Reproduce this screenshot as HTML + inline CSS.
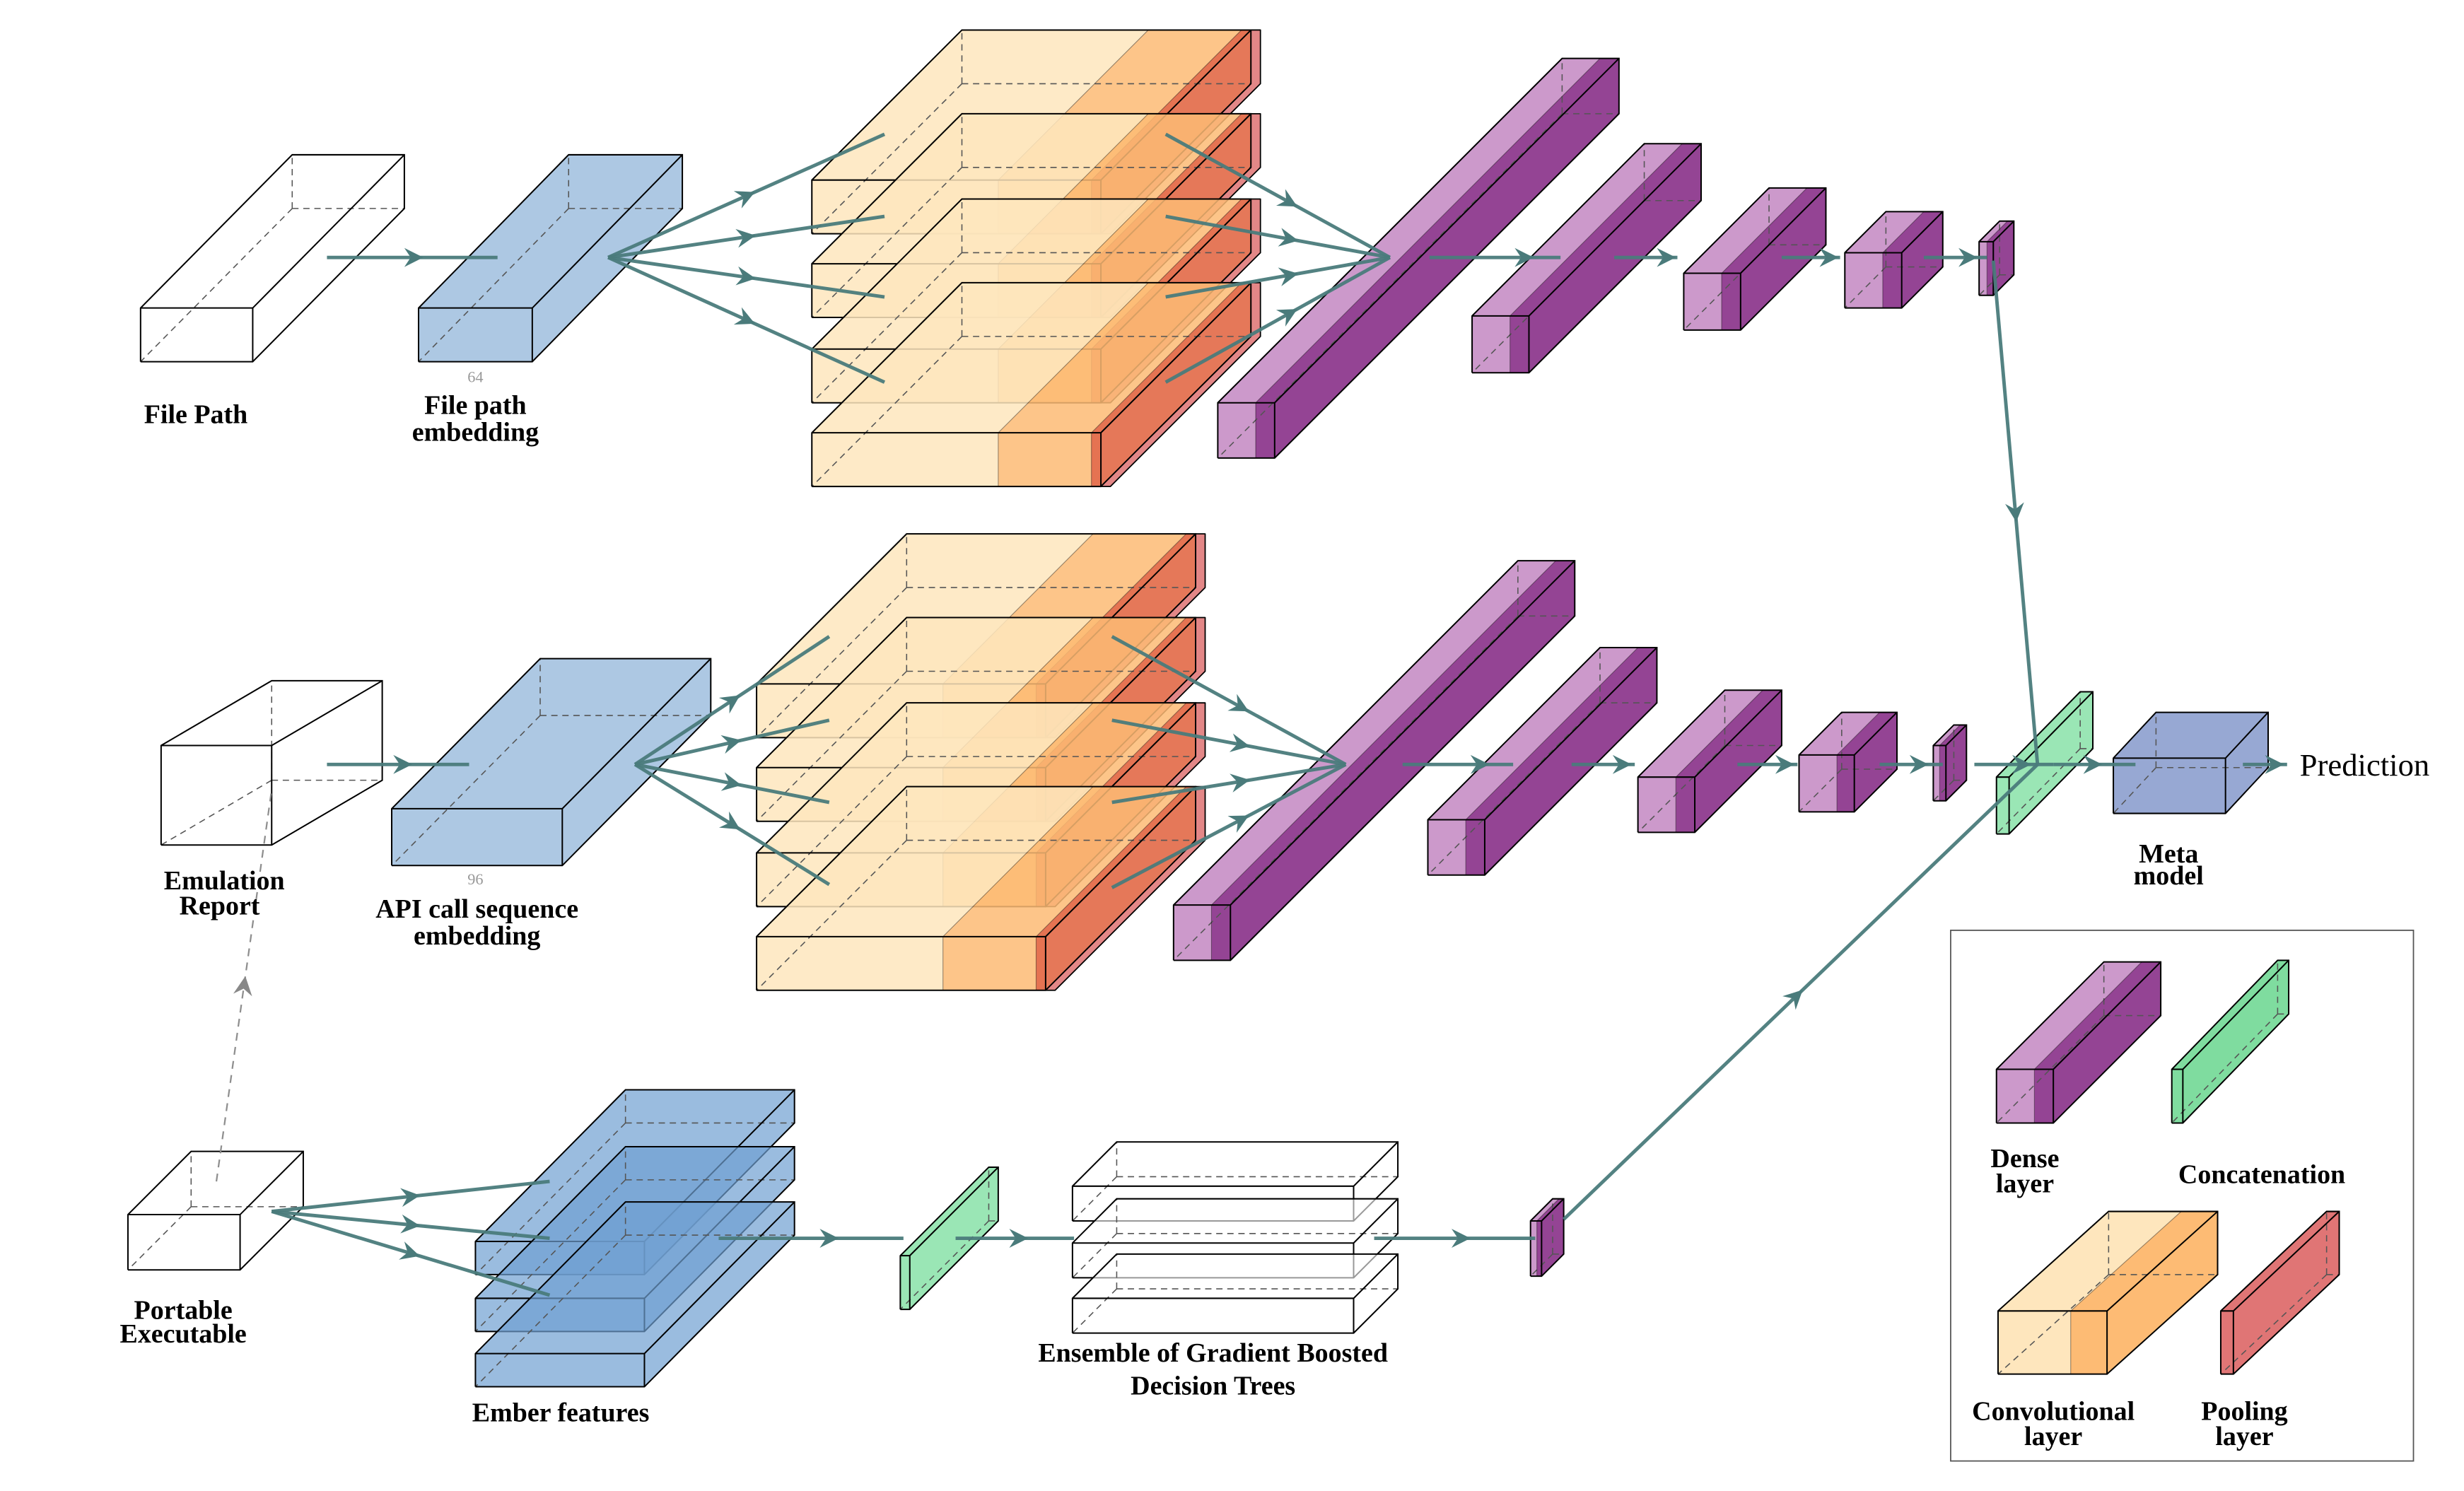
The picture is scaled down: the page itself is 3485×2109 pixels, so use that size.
<!DOCTYPE html>
<html><head><meta charset="utf-8">
<style>
html,body{margin:0;padding:0;background:#fff;}
svg{display:block;}
text{font-family:"Liberation Serif",serif;}
.lb{font-weight:bold;font-size:17px;text-anchor:middle;fill:#000;}
</style></head>
<body>
<svg id="s" width="3485" height="2109" viewBox="0 0 1560 944" preserveAspectRatio="none" xmlns="http://www.w3.org/2000/svg">
<rect x="0" y="0" width="1560" height="944" fill="#fff"/>
<g id="shapes"></g>
<g id="arrows"></g>
<g id="labels">
<text class="lb" x="124" y="268">File Path</text>
<text class="lb" x="301" y="262">File path</text>
<text class="lb" x="301" y="279">embedding</text>
<text x="301" y="242" font-size="10" fill="#999" text-anchor="middle">64</text>
<text class="lb" x="142" y="563">Emulation</text>
<text class="lb" x="139" y="579">Report</text>
<text class="lb" x="302" y="581">API call sequence</text>
<text class="lb" x="302" y="598">embedding</text>
<text x="301" y="560" font-size="10" fill="#999" text-anchor="middle">96</text>
<text class="lb" x="1373" y="546">Meta</text>
<text class="lb" x="1373" y="560">model</text>
<text x="1456" y="491" font-size="20" fill="#000">Prediction</text>
<text class="lb" x="116" y="835">Portable</text>
<text class="lb" x="116" y="850">Executable</text>
<text class="lb" x="355" y="900">Ember features</text>
<text class="lb" x="768" y="862">Ensemble of Gradient Boosted</text>
<text class="lb" x="768" y="883">Decision Trees</text>
<text class="lb" x="1282" y="739">Dense</text>
<text class="lb" x="1282" y="755">layer</text>
<text class="lb" x="1432" y="749">Concatenation</text>
<text class="lb" x="1300" y="899">Convolutional</text>
<text class="lb" x="1300" y="915">layer</text>
<text class="lb" x="1421" y="899">Pooling</text>
<text class="lb" x="1421" y="915">layer</text>
</g>
</svg>
<script>
var NS="http://www.w3.org/2000/svg";
var G=document.getElementById("shapes"), A=document.getElementById("arrows");
function el(p,tag,at){var e=document.createElementNS(NS,tag);for(var k in at)e.setAttribute(k,at[k]);p.appendChild(e);return e;}
function poly(pts,fill,op,stroke){return el(G,"polygon",{points:pts.map(function(p){return p[0]+","+p[1]}).join(" "),fill:fill,"fill-opacity":op,stroke:stroke||"#000","stroke-width":0.8,"stroke-linejoin":"round"});}
function dash(x1,y1,x2,y2){el(G,"line",{x1:x1,y1:y1,x2:x2,y2:y2,stroke:"#555","stroke-width":0.7,"stroke-dasharray":"4,3"});}
// segs: [[width, frontColor, topColor]], side color
function box(x,y,h,dx,dy,segs,side,op){
  op=(op===undefined)?0.85:op;
  var W=0;segs.forEach(function(s){W+=s[0]});
  var cx=x;
  segs.forEach(function(s){
    var w=s[0];
    poly([[cx,y],[cx+dx,y+dy],[cx+w+dx,y+dy],[cx+w,y]],s[2]||s[1],op,"none");
    poly([[cx,y],[cx+w,y],[cx+w,y+h],[cx,y+h]],s[1],op,"none");
    cx+=w;
  });
  poly([[x+W,y],[x+W+dx,y+dy],[x+W+dx,y+dy+h],[x+W,y+h]],side,op,"none");
  // hidden edges
  dash(x+dx,y+h+dy,x+dx,y+dy);dash(x+dx,y+h+dy,x+W+dx,y+h+dy);dash(x+dx,y+h+dy,x,y+h);
  // outlines
  el(G,"polyline",{points:[x,y+h,x,y,x+dx,y+dy,x+W+dx,y+dy,x+W+dx,y+dy+h,x+W,y+h,x,y+h].join(" "),fill:"none",stroke:"#000","stroke-width":0.9});
  el(G,"polyline",{points:[x,y,x+W,y,x+W+dx,y+dy].join(" "),fill:"none",stroke:"#000","stroke-width":0.9});
  el(G,"line",{x1:x+W,y1:y,x2:x+W,y2:y+h,stroke:"#000","stroke-width":0.9});
  // seg dividers
  cx=x;for(var i=0;i<segs.length-1;i++){cx+=segs[i][0];el(G,"polyline",{points:[cx,y+h,cx,y,cx+dx,y+dy].join(" "),fill:"none",stroke:"#000","stroke-width":0.5,"stroke-opacity":0.4});}
}
var LP="#c994c8",DP="#8e3a8e";
function dense(x,y,w1,w2,h,d){box(x,y,h,d,-d,[[w1,LP],[w2,DP]],DP,0.95);}
function conv(x,y,w1,w2,h,d){
  box(x,y,h,d,-d,[[w1,"#fee6bd"],[w2,"#fdbb74"],[6,"#e05a34"]],"#e0603c",0.85);
  // extra pooling slab shade at back
  poly([[x+w1+w2+6+d,y-d],[x+w1+w2+12+d,y-d],[x+w1+w2+12+d,y-d+h],[x+w1+w2+12,y+h],[x+w1+w2+6,y+h],[x+w1+w2+6+d,y-d+h]],"#e07a7a",0.9);
}
var WH="#ffffff",BL="#a9c5e2";
// Row1
box(89,195,34,96,-97,[[71,WH]],WH,1);
box(265,195,34,95,-97,[[72,BL]],BL,0.95);
[114,167,221,274].forEach(function(y){conv(514,y,118,59,34,95);});
dense(771,255,24,12,35,218);
dense(932,200,24,12,36,109);
dense(1066,173,24,12,36,54);
dense(1168,160,24,12,35,26);
dense(1253,153,5,4,34,13);
// Row2
box(102,472,63,70,-41,[[70,WH]],WH,1);
box(248,512,36,94,-95,[[108,BL]],BL,0.95);
[433,486,540,593].forEach(function(y){conv(479,y,118,59,34,95);});
dense(743,573,24,12,35,218);
dense(904,519,24,12,35,109);
dense(1037,492,24,12,35,55);
dense(1139,478,24,11,36,27);
dense(1224,472,4,4,35,13);
box(1264,492,36,53,-54,[[8,"#8fe3ad"]],"#8fe3ad",0.9);
box(1338,480,35,27,-29,[[71,"#97a8d3"]],"#97a8d3",1);
// Row3
box(81,769,35,40,-40,[[71,WH]],WH,1);
[786,822,857].forEach(function(y){box(301,y,21,95,-96,[[107,"#6f9fd2"]],"#6f9fd2",0.7);});
box(570,795,34,56,-56,[[6,"#8fe3ad"]],"#8fe3ad",0.9);
[751,787,822].forEach(function(y){box(679,y,22,28,-28,[[178,WH]],WH,0.6);});
dense(969,773,4,3,35,14);
// Legend
el(G,"rect",{x:1235,y:589,width:293,height:336,fill:"none",stroke:"#555","stroke-width":0.8});
dense(1264,677,24,12,34,68);
box(1375,677,34,67,-69,[[7,"#7fdc9f"]],"#7fdc9f",1);
box(1265,830,40,70,-63,[[46,"#fee6bd"],[23,"#fdbb74"]],"#fdbb74",1);
box(1406,830,40,67,-63,[[8,"#e07575"]],"#e07575",1);

// arrows
var TC="#4a7b7b";
function arrow(x1,y1,x2,y2,t,dashd){
  var at={x1:x1,y1:y1,x2:x2,y2:y2,stroke:dashd?"#888":TC,"stroke-width":dashd?1:2.2,"stroke-opacity":0.95};
  if(dashd)at["stroke-dasharray"]="5,4";
  el(A,"line",at);
  if(t!==null){var mx=x1+(x2-x1)*t,my=y1+(y2-y1)*t;var L=Math.hypot(x2-x1,y2-y1),ux=(x2-x1)/L,uy=(y2-y1)/L,nx=-uy,ny=ux;
   var pts=[[mx+ux*6,my+uy*6],[mx-ux*6+nx*6,my-uy*6+ny*6],[mx-ux*2,my-uy*2],[mx-ux*6-nx*6,my-uy*6-ny*6]];
   el(A,"polygon",{points:pts.map(function(p){return p.join(",")}).join(" "),fill:dashd?"#888":TC});}
}
function h(x1,x2,y,hx){arrow(x1,y,x2,y,(hx-x1)/(x2-x1));}
// row1
h(207,315,163,262);
[[560,85],[560,137],[560,188],[560,242]].forEach(function(p){arrow(385,163,p[0],p[1],0.5);});
[[738,85],[738,137],[738,188],[738,242]].forEach(function(p){arrow(p[0],p[1],880,163,0.55);});
h(905,988,163,965);h(1022,1062,163,1055);h(1128,1165,163,1158);h(1218,1258,163,1246);
arrow(1262,165,1290,484,0.5);
// row2
h(207,297,484,255);
[[525,403],[525,456],[525,508],[525,560]].forEach(function(p){arrow(402,484,p[0],p[1],0.5);});
[[704,403],[704,456],[704,508],[704,562]].forEach(function(p){arrow(p[0],p[1],852,484,0.55);});
h(888,958,484,937);h(995,1035,484,1027);h(1100,1138,484,1130);h(1190,1230,484,1215);
h(1250,1300,484,1280);h(1300,1352,484,1325);h(1420,1448,484,1440);
// row3
arrow(137,748,172,500,0.5,true);
[[348,748],[348,784],[348,820]].forEach(function(p){arrow(172,767,p[0],p[1],0.5);});
h(455,572,784,525);h(605,680,784,645);h(870,972,784,925);
arrow(990,772,1290,484,0.49);
</script>
</body></html>
